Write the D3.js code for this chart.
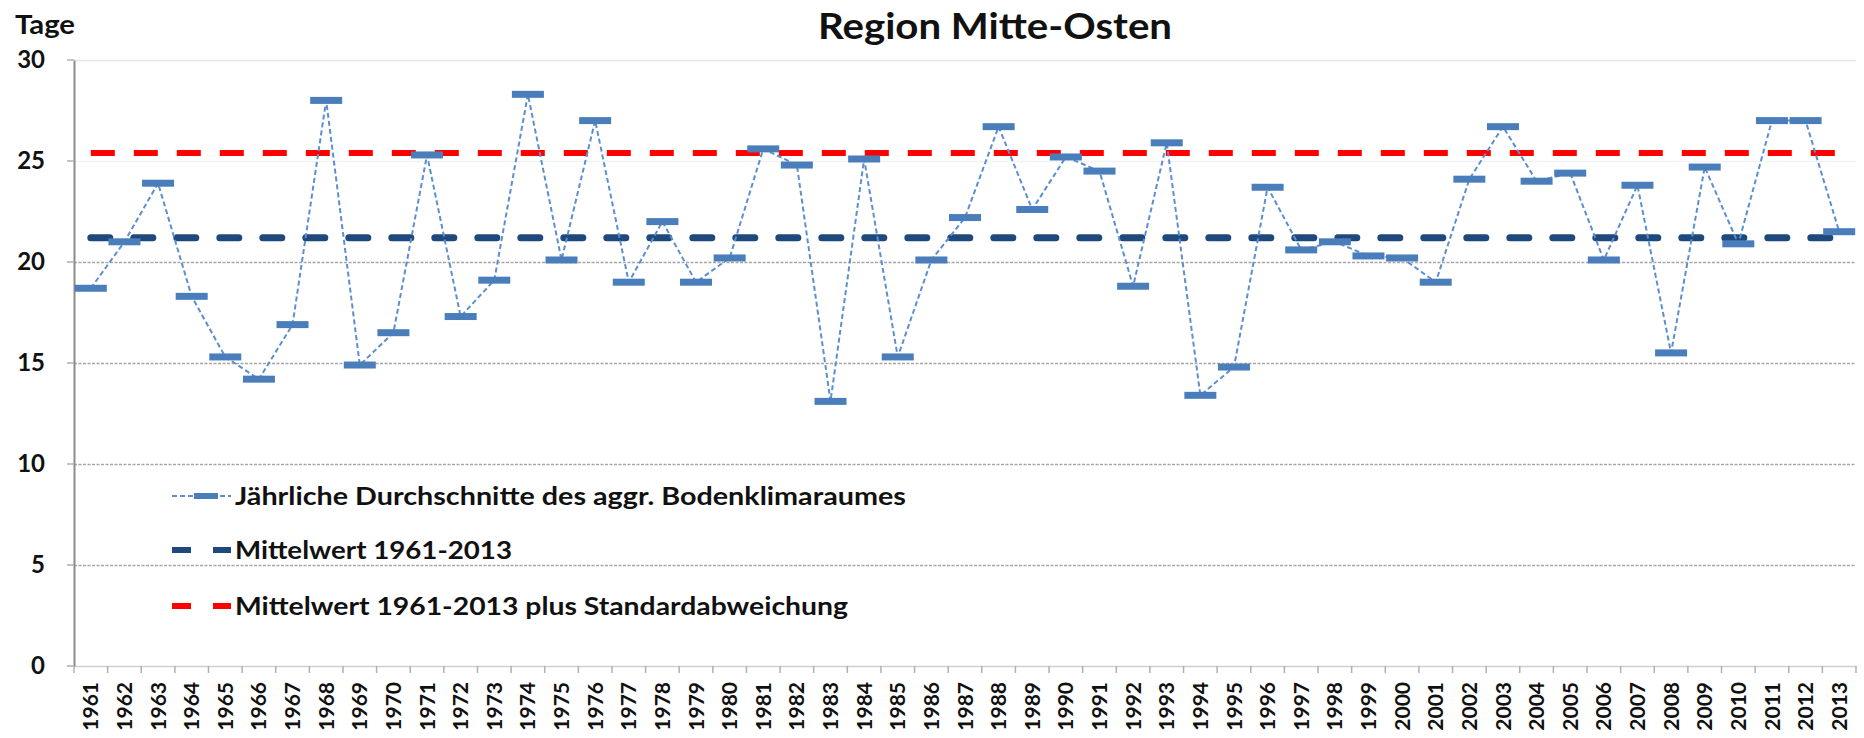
<!DOCTYPE html>
<html>
<head>
<meta charset="utf-8">
<script src="https://cdn.jsdelivr.net/npm/d3@7"></script>
<style>
  html, body { margin: 0; padding: 0; background: #fff; }
  svg { display: block; }
  text { font-family: Lato, "Open Sans", "Liberation Sans", sans-serif; fill: #111; }
</style>
</head>
<body>
<svg id="chart" width="1864" height="738"></svg>
<script>
// ---- data ----
const years = [1961,1962,1963,1964,1965,1966,1967,1968,1969,1970,
               1971,1972,1973,1974,1975,1976,1977,1978,1979,1980,
               1981,1982,1983,1984,1985,1986,1987,1988,1989,1990,
               1991,1992,1993,1994,1995,1996,1997,1998,1999,2000,
               2001,2002,2003,2004,2005,2006,2007,2008,2009,2010,
               2011,2012,2013];
const annualValues = [18.7,21.0,23.9,18.3,15.3,14.2,16.9,28.0,14.9,16.5,
                      25.3,17.3,19.1,28.3,20.1,27.0,19.0,22.0,19.0,20.2,
                      25.6,24.8,13.1,25.1,15.3,20.1,22.2,26.7,22.6,25.2,
                      24.5,18.8,25.9,13.4,14.8,23.7,20.6,21.0,20.3,20.2,
                      19.0,24.1,26.7,24.0,24.4,20.1,23.8,15.5,24.7,20.9,
                      27.0,27.0,21.5];
const meanValue = 21.2;
const meanPlusSd = 25.4;
const yTicks = [0, 5, 10, 15, 20, 25, 30];
const chartTitle = "Region Mitte-Osten";
const yAxisTitle = "Tage";
const legendLabels = [
  "Jährliche Durchschnitte des aggr. Bodenklimaraumes",
  "Mittelwert 1961-2013",
  "Mittelwert 1961-2013 plus Standardabweichung"
];

// ---- layout ----
const svg = d3.select("#chart");
const pLeft = 74, pRight = 1856, pTop = 60, pBottom = 666;
const x = d3.scaleBand().domain(years).range([pLeft, pRight]).padding(0);
const y = d3.scaleLinear().domain([0, 30]).range([pBottom, pTop]);
const cx = d => x(d) + x.bandwidth() / 2;

const colSeries = "#4a7ebb";
const colMean = "#1f497d";
const colSd = "#ff0000";

// gridlines
const grid = svg.append("g")
  .attr("transform", `translate(${pLeft},0)`)
  .call(d3.axisLeft(y).tickValues(yTicks.filter(v => v > 0)).tickSize(-(pRight - pLeft)).tickFormat(""));
grid.select(".domain").remove();
grid.selectAll(".tick line")
  .attr("stroke", d => d === 30 ? "#e6e6e6" : (d === 25 ? "#f2f2f2" : "#a6a6a6"))
  .attr("stroke-width", 1.6)
  .attr("stroke-dasharray", d => d >= 25 ? null : "3,1.5");

// x axis line (at 0)
const xAxis = svg.append("g")
  .attr("transform", `translate(0,${pBottom})`)
  .call(d3.axisBottom(x).tickSize(0).tickPadding(0));
xAxis.select(".domain").attr("stroke", "#d0d0d0").attr("stroke-width", 1.5);
xAxis.selectAll(".tick text")
  .attr("transform", "rotate(-90)")
  .attr("text-anchor", "end")
  .attr("x", -16)
  .attr("y", 0)
  .attr("dy", "0.36em")
  .style("font-size", "21px")
  .style("font-weight", "bold")
  .style("fill", "#111");
// tick marks at category boundaries
svg.append("g").selectAll("line")
  .data(years.concat([null]))
  .join("line")
  .attr("x1", (d, i) => pLeft + i * x.step())
  .attr("x2", (d, i) => pLeft + i * x.step())
  .attr("y1", pBottom)
  .attr("y2", pBottom + 7)
  .attr("stroke", "#b0b0b0")
  .attr("stroke-width", 1.5);

// y axis
const yAxis = svg.append("g")
  .attr("transform", `translate(${pLeft},0)`)
  .call(d3.axisLeft(y).tickValues(yTicks).tickSize(0).tickPadding(29));
yAxis.select(".domain").attr("stroke", "#8c8c8c").attr("stroke-width", 2);
yAxis.selectAll(".tick text")
  .style("font-size", "24px")
  .style("font-weight", "bold")
  .style("fill", "#111");
svg.append("g").selectAll("line")
  .data(yTicks)
  .join("line")
  .attr("x1", pLeft - 7).attr("x2", pLeft)
  .attr("y1", d => y(d)).attr("y2", d => y(d))
  .attr("stroke", "#b0b0b0").attr("stroke-width", 1.5);

// mean + sd lines
const x0 = cx(years[0]), x1 = cx(years[years.length - 1]);
svg.append("line")
  .attr("x1", x0).attr("x2", x1)
  .attr("y1", y(meanValue)).attr("y2", y(meanValue))
  .attr("stroke", colMean).attr("stroke-width", 7)
  .attr("stroke-linecap", "round")
  .attr("stroke-dasharray", "19,24");
svg.append("line")
  .attr("x1", x0).attr("x2", x1)
  .attr("y1", y(meanPlusSd)).attr("y2", y(meanPlusSd))
  .attr("stroke", colSd).attr("stroke-width", 6)
  .attr("stroke-dasharray", "24,19");

// series line
const line = d3.line().x((d, i) => cx(years[i])).y(d => y(d));
svg.append("path")
  .datum(annualValues)
  .attr("d", line)
  .attr("fill", "none")
  .attr("stroke", "#5b8fd0")
  .attr("stroke-width", 2)
  .attr("stroke-dasharray", "5,3");

// markers (dash-shaped)
const mW = 32, mH = 7;
svg.append("g").selectAll("rect")
  .data(annualValues)
  .join("rect")
  .attr("x", (d, i) => cx(years[i]) - mW / 2)
  .attr("y", d => y(d) - mH / 2)
  .attr("width", mW)
  .attr("height", mH)
  .attr("fill", colSeries);

// title
svg.append("text")
  .attr("x", 818).attr("y", 39)
  .attr("textLength", 354)
  .attr("lengthAdjust", "spacingAndGlyphs")
  .style("font-size", "37px")
  .style("font-weight", "bold")
  .text(chartTitle);

// y axis title
svg.append("text")
  .attr("x", 15).attr("y", 34)
  .attr("textLength", 60)
  .attr("lengthAdjust", "spacingAndGlyphs")
  .style("font-size", "27px")
  .style("font-weight", "bold")
  .text(yAxisTitle);

// legend
const legY = [496, 550, 606];
const legTextEnd = [906, 512, 848];
const legX = 235;
const lg = svg.append("g");
lg.append("line").attr("x1", 172).attr("x2", 231).attr("y1", legY[0]).attr("y2", legY[0])
  .attr("stroke", "#5b8fd0").attr("stroke-width", 2).attr("stroke-dasharray", "5,3");
lg.append("rect").attr("x", 194).attr("y", legY[0] - 3).attr("width", 24).attr("height", 6).attr("fill", colSeries);
lg.append("line").attr("x1", 172).attr("x2", 231).attr("y1", legY[1]).attr("y2", legY[1])
  .attr("stroke", colMean).attr("stroke-width", 6).attr("stroke-dasharray", "19,22");
lg.append("line").attr("x1", 172).attr("x2", 231).attr("y1", legY[2]).attr("y2", legY[2])
  .attr("stroke", colSd).attr("stroke-width", 6).attr("stroke-dasharray", "19,22");
legendLabels.forEach((t, i) => {
  lg.append("text")
    .attr("x", legX).attr("y", legY[i])
    .attr("dy", "0.36em")
    .attr("textLength", legTextEnd[i] - legX)
    .attr("lengthAdjust", "spacingAndGlyphs")
    .style("font-size", "25px")
    .style("font-weight", "bold")
    .text(t);
});
</script>
</body>
</html>
